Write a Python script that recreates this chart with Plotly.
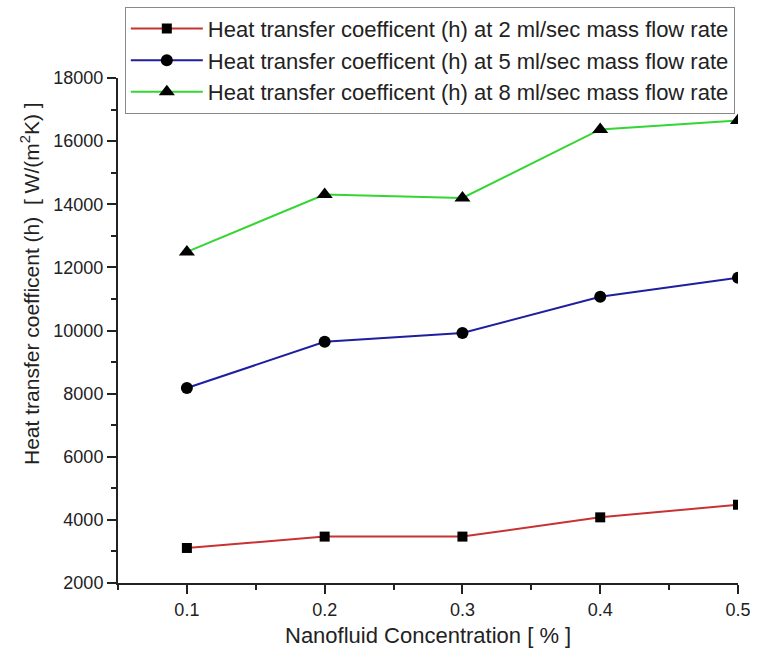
import plotly.graph_objects as go

concentration = [0.1, 0.2, 0.3, 0.4, 0.5]
h_2ml = [3110, 3470, 3470, 4080, 4480]
h_5ml = [8180, 9640, 9920, 11070, 11670]
h_8ml = [12490, 14310, 14200, 16370, 16650]

names = [
    "Heat transfer coefficent (h) at 2 ml/sec mass flow rate",
    "Heat transfer coefficent (h) at 5 ml/sec mass flow rate",
    "Heat transfer coefficent (h) at 8 ml/sec mass flow rate",
]
colors = ["#C83232", "#1E1E9E", "#33D633"]
symbols = ["square", "circle", "triangle-up"]
sizes = [10, 12, 14]
series = [h_2ml, h_5ml, h_8ml]

FONT = "Arial, Liberation Sans, sans-serif"

fig = go.Figure()
for name, ys, c, s, sz in zip(names, series, colors, symbols, sizes):
    fig.add_trace(go.Scatter(
        x=concentration, y=ys, name=name, mode="lines+markers",
        line=dict(color=c, width=2),
        marker=dict(symbol=s, size=sz, color="black"),
    ))

fig.update_layout(
    width=771, height=658,
    margin=dict(l=118, r=33, t=78, b=75, autoexpand=False),
    paper_bgcolor="white", plot_bgcolor="white",
    font=dict(family=FONT, color="#222", size=18),
    showlegend=True,
    legend=dict(
        x=0.011, y=1.141, xanchor="left", yanchor="top",
        bgcolor="white", bordercolor="#888", borderwidth=1,
        font=dict(size=22, family=FONT, color="#222"),
        itemwidth=72, tracegroupgap=0,
    ),
    xaxis=dict(
        range=[0.05, 0.5], tickvals=[0.1, 0.2, 0.3, 0.4, 0.5],
        ticktext=["0.1", "0.2", "0.3", "0.4", "0.5"],
        showgrid=False, zeroline=False, showline=True, linecolor="#222", linewidth=2,
        ticks="outside", ticklen=9, tickwidth=1.5, tickcolor="#222",
        minor=dict(tickvals=[0.05, 0.15, 0.25, 0.35, 0.45], ticks="outside", ticklen=5, tickcolor="#222", tickwidth=1.5),
        tickfont=dict(size=18), automargin=False,
    ),
    yaxis=dict(
        range=[2000, 18000], tickvals=[2000, 4000, 6000, 8000, 10000, 12000, 14000, 16000, 18000],
        ticktext=["2000", "4000", "6000", "8000", "10000", "12000", "14000", "16000", "18000"],
        showgrid=False, zeroline=False, showline=True, linecolor="#222", linewidth=2,
        ticks="outside", ticklen=9, tickwidth=1.5, tickcolor="#222",
        minor=dict(tickvals=[3000, 5000, 7000, 9000, 11000, 13000, 15000, 17000], ticks="outside", ticklen=5, tickcolor="#222", tickwidth=1.5),
        tickfont=dict(size=18), automargin=False,
    ),
    annotations=[
        dict(
            text="Heat transfer coefficent (h)  [ W/(m<sup>2</sup>K) ]",
            textangle=-90, xref="paper", yref="paper", x=-0.142, y=0.594,
            xanchor="center", yanchor="middle", showarrow=False,
            font=dict(size=21, family=FONT, color="#222"),
        ),
        dict(
            text="Nanofluid Concentration [ % ]",
            xref="paper", yref="paper", x=0.5, y=-0.103,
            xanchor="center", yanchor="middle", showarrow=False,
            font=dict(size=22, family=FONT, color="#222"),
        ),
    ],
)

fig.write_html("out.html")
